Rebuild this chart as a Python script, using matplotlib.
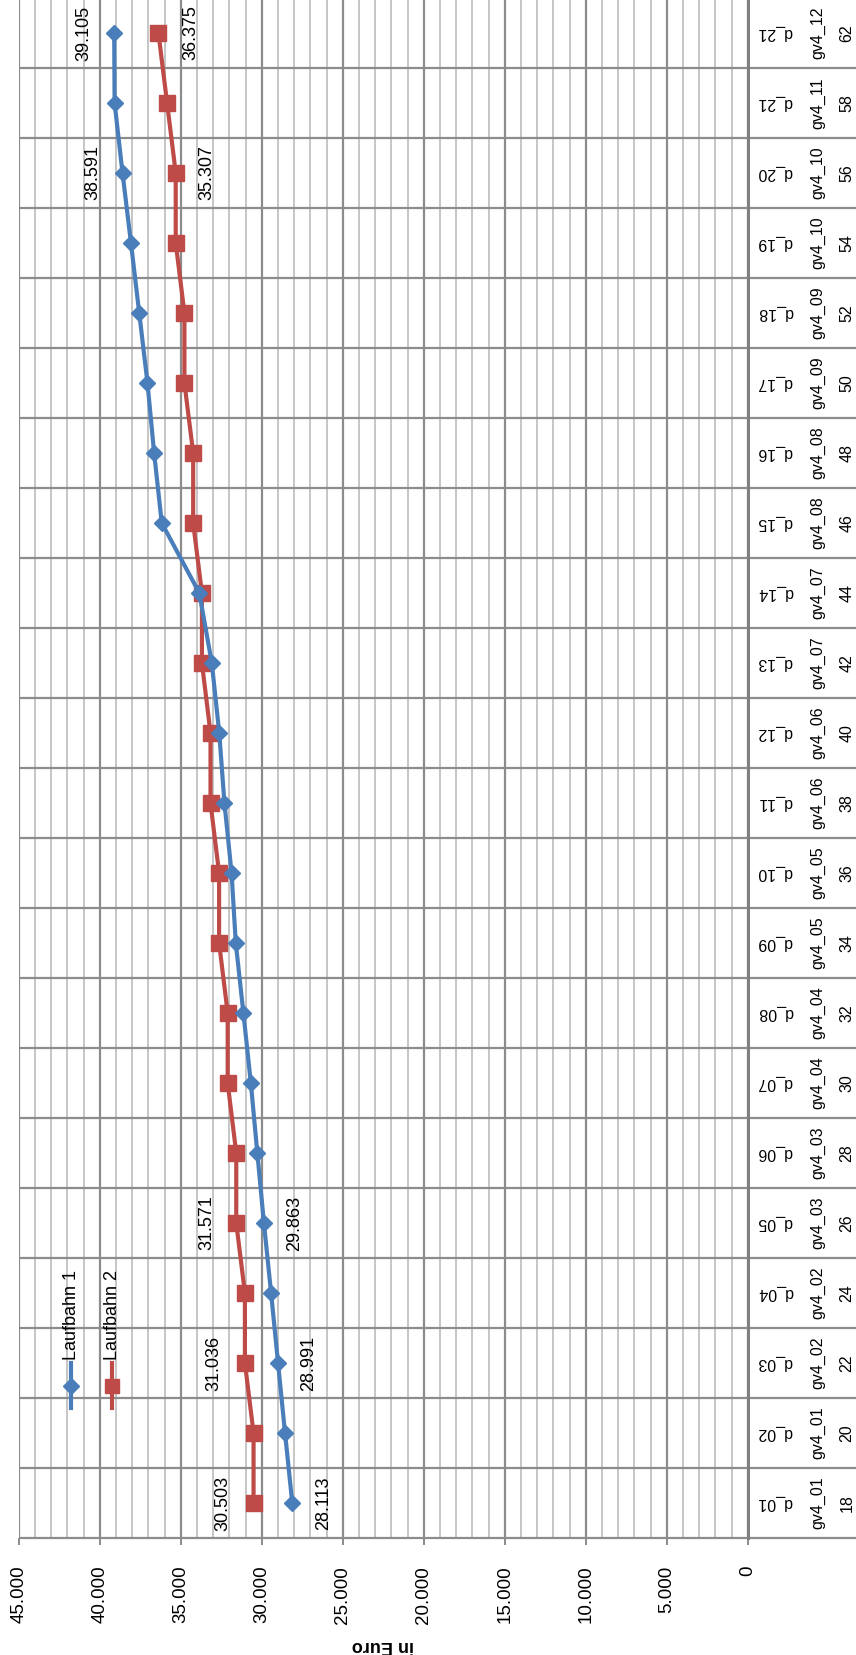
import numpy as np
import matplotlib
matplotlib.use("Agg")
import matplotlib.pyplot as plt
from matplotlib.transforms import blended_transform_factory
from matplotlib.ticker import FuncFormatter, MultipleLocator

plt.rcParams['font.family'] = ['Liberation Sans', 'DejaVu Sans']

# category levels (bottom to top in the rotated picture)
dienst = ['d_01', 'd_02', 'd_03', 'd_04', 'd_05', 'd_06', 'd_07', 'd_08', 'd_09', 'd_10', 'd_11',
          'd_12', 'd_13', 'd_14', 'd_15', 'd_16', 'd_17', 'd_18', 'd_19', 'd_20', 'd_21', 'd_21']
gruppe = ['gv4_01', 'gv4_01', 'gv4_02', 'gv4_02', 'gv4_03', 'gv4_03', 'gv4_04', 'gv4_04', 'gv4_05',
          'gv4_05', 'gv4_06', 'gv4_06', 'gv4_07', 'gv4_07', 'gv4_08', 'gv4_08', 'gv4_09', 'gv4_09',
          'gv4_10', 'gv4_10', 'gv4_11', 'gv4_12']
alter = ['18', '20', '22', '24', '26', '28', '30', '32', '34', '36', '38', '40', '42', '44', '46',
         '48', '50', '52', '54', '56', '58', '62']

laufbahn1 = [28113, 28560, 28991, 29420, 29863, 30270, 30670, 31130, 31600, 31860, 32300,
             32620, 33080, 33850, 36170, 36640, 37050, 37560, 38070, 38591, 39080, 39105]
laufbahn2 = [30503, 30503, 31036, 31036, 31571, 31571, 32100, 32100, 32630, 32630, 33160,
             33160, 33690, 33690, 34230, 34230, 34770, 34770, 35307, 35307, 35840, 36375]

labelled = [0, 2, 4, 19, 21]
off1 = [31, 31, 31, -30, -30]   # pixel offsets of the data labels
off2 = [-31, -31, -29, 31, 32]

blue = '#4a7ebb'
red = '#be4b48'
grid_major = '#8c8c8c'
grid_minor = '#c6c6c6'

W, H = 856, 1655
fig = plt.figure(figsize=(W / 100, H / 100), dpi=100)
ax_left, ax_right = 18.7, 747.7
ax_bottom, cat_h = 1538, 70
ncat = len(dienst)
ax = fig.add_axes([ax_left / W, (H - ax_bottom) / H, (ax_right - ax_left) / W, ncat * cat_h / H])

k = np.arange(ncat)
ax.plot(laufbahn1, k, color=blue, lw=3, marker='D', ms=8.5, zorder=4, clip_on=False)
ax.plot(laufbahn2, k, color=red, lw=3, marker='s', ms=11.5, zorder=3, clip_on=False)

ax.set_xlim(45000, 0)
ax.set_ylim(-0.5, ncat - 0.5)

ax.xaxis.set_major_locator(MultipleLocator(5000))
ax.xaxis.set_minor_locator(MultipleLocator(1000))
ax.xaxis.set_major_formatter(FuncFormatter(lambda v, p: f"{int(round(v)):,}".replace(',', '.')))
ax.grid(which='minor', axis='x', color=grid_minor, lw=1.4, zorder=0)
ax.grid(which='major', axis='x', color=grid_major, lw=1.6, zorder=1)
ax.set_axisbelow(True)
ax.tick_params(axis='x', which='major', direction='out', length=5, width=1.4, color=grid_major,
               labelsize=13.5, labelrotation=90, pad=15)
ax.tick_params(axis='x', which='minor', length=0)
for lab in ax.get_xticklabels():
    lab.set_va('top')
ax.set_yticks([])

for s in ['top', 'left', 'bottom']:
    ax.spines[s].set_visible(False)
ax.spines['right'].set_color('#808080')
ax.spines['right'].set_linewidth(2.2)

# category separators, running through the label area to the right edge
tr = blended_transform_factory(ax.transAxes, ax.transData)
right_edge = (W - ax_left) / (ax_right - ax_left)
ax.hlines(np.arange(-0.5, ncat - 0.5), 0, right_edge, transform=tr, color=grid_major,
          lw=1.6, clip_on=False, zorder=1)

def xf(px):
    return (px - ax_left) / (ax_right - ax_left)

for i in range(ncat):
    ax.text(xf(775), i, dienst[i], transform=tr, rotation=180, ha='center', va='center', fontsize=11.5)
    ax.text(xf(818), i, gruppe[i], transform=tr, rotation=90, ha='center', va='center', fontsize=11.5)
    ax.text(xf(847), i, alter[i], transform=tr, rotation=90, ha='center', va='center', fontsize=11.5)

def fmt(v):
    return f"{v:,}".replace(',', '.')

for j, i in enumerate(labelled):
    ax.annotate(fmt(laufbahn1[i]), (laufbahn1[i], i), xytext=(off1[j], 0), textcoords='offset pixels',
                rotation=90, ha='center', va='center', fontsize=13, zorder=5)
    ax.annotate(fmt(laufbahn2[i]), (laufbahn2[i], i), xytext=(off2[j], 0), textcoords='offset pixels',
                rotation=90, ha='center', va='center', fontsize=13, zorder=5)

ax.set_xlabel('in Euro', fontsize=13, fontweight='bold', rotation=180, labelpad=10)

# legend, drawn by hand because the whole chart is turned on its side
def yf(py):
    return (ax_bottom - py) / (ncat * cat_h)

for name, col, mk, ms, px in [('Laufbahn 1', blue, 'D', 8, 71), ('Laufbahn 2', red, 's', 10, 112)]:
    ax.plot([xf(px), xf(px)], [yf(1408), yf(1363)], transform=ax.transAxes, color=col, lw=3,
            clip_on=False, zorder=6)
    ax.plot([xf(px)], [yf(1386)], transform=ax.transAxes, color=col, marker=mk, ms=ms,
            clip_on=False, zorder=6)
    ax.text(xf(px), yf(1360), name, transform=ax.transAxes, rotation=90, ha='center', va='bottom',
            fontsize=13, zorder=6)

fig.savefig('out.png', dpi=100)
